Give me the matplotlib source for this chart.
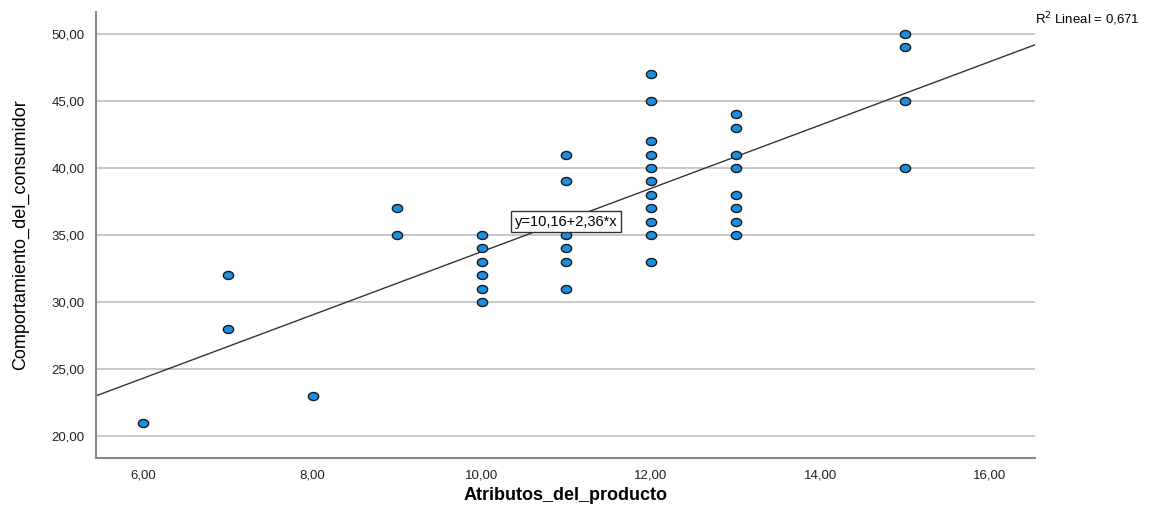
import matplotlib
matplotlib.use("Agg")
import matplotlib.pyplot as plt
from matplotlib.path import Path
from matplotlib.ticker import FuncFormatter
import numpy as np

# data
x_vals = [6, 7, 7, 8, 9, 9,
          10, 10, 10, 10, 10, 10,
          11, 11, 11, 11, 11, 11,
          12, 12, 12, 12, 12, 12, 12, 12, 12, 12, 12,
          13, 13, 13, 13, 13, 13, 13, 13,
          15, 15, 15, 15]
y_vals = [21, 32, 28, 23, 37, 35,
          35, 34, 33, 32, 31, 30,
          41, 39, 35, 34, 33, 31,
          47, 45, 42, 41, 40, 39, 38, 37, 36, 35, 33,
          44, 43, 41, 40, 38, 37, 36, 35,
          50, 49, 45, 40]
intercept = 10.16
slope = 2.36
r2 = 0.671
x_ticks = [6, 8, 10, 12, 14, 16]
y_ticks = [20, 25, 30, 35, 40, 45, 50]

plt.rcParams['font.family'] = ['Liberation Sans', 'DejaVu Sans']

fig = plt.figure(figsize=(11.54, 5.11), dpi=100)
ax = fig.add_axes([0.0832, 0.1037, 0.8137, 0.8728])
ax.set_xlim(5.44, 16.54)
ax.set_ylim(18.36, 51.64)

# slightly flattened circle like the SPSS markers
t = np.linspace(0, 2 * np.pi, 40)
ellipse = Path(np.column_stack([np.cos(t), 0.78 * np.sin(t)]), closed=True)

for yt in y_ticks:
    ax.axhline(yt, color="#c4c4c4", lw=1.3, zorder=0)

xs = np.array([ax.get_xlim()[0], ax.get_xlim()[1]])
ax.plot(xs, intercept + slope * xs, color="#333333", lw=1.0, zorder=2)

ax.scatter(x_vals, y_vals, marker=ellipse, s=55, facecolor="#1a8ee0",
           edgecolor="#1a1a1a", linewidths=1.0, zorder=3)

ax.text(11.0, 36.0, "y=10,16+2,36*x", ha="center", va="center", fontsize=10.5,
        bbox=dict(boxstyle="square,pad=0.25", facecolor="white", edgecolor="#333333", lw=1.0),
        zorder=4)

fig.text(0.897, 0.962, "R$^2$ Lineal = " + f"{r2:.3f}".replace(".", ","),
         ha="left", va="center", fontsize=9.5)

comma = FuncFormatter(lambda v, p: f"{v:.2f}".replace(".", ","))
ax.set_xticks(x_ticks)
ax.set_yticks(y_ticks)
ax.xaxis.set_major_formatter(comma)
ax.yaxis.set_major_formatter(comma)
ax.tick_params(length=0, labelsize=9.5, colors="#222222", pad=8)

for s in ["top", "right"]:
    ax.spines[s].set_visible(False)
for s in ["left", "bottom"]:
    ax.spines[s].set_color("#888888")
    ax.spines[s].set_linewidth(1.5)

ax.set_xlabel("Atributos_del_producto", fontsize=13, fontweight="bold", labelpad=4)
ax.set_ylabel("Comportamiento_del_consumidor", fontsize=13, labelpad=16)

fig.savefig("out.png", dpi=100)
